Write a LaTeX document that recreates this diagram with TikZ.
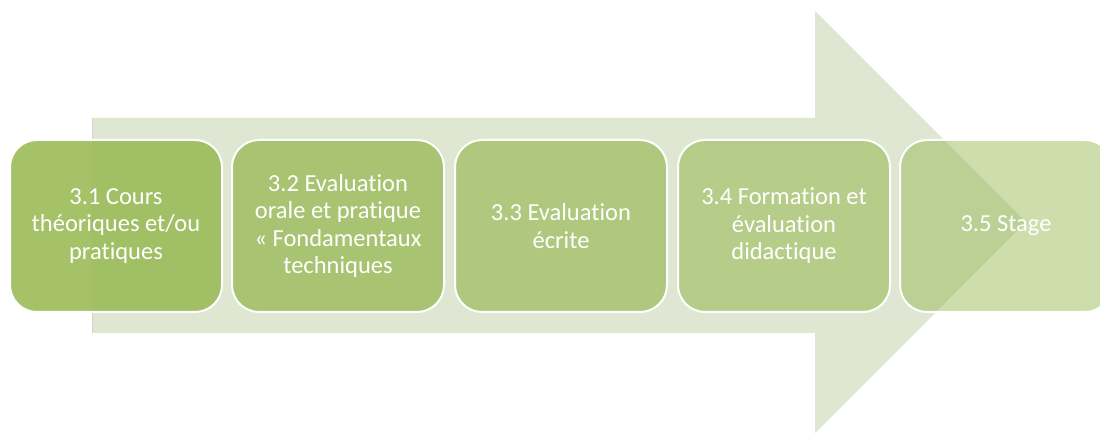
\documentclass[tikz,border=0pt]{standalone}
\usepackage{fontspec}
\setmainfont[Ligatures=NoCommon]{Carlito}
\definecolor{arrowfill}{HTML}{DFE7D2}
\definecolor{accent}{HTML}{9BBB59}
\begin{document}
\begin{tikzpicture}[x=1pt,y=-1pt,
  stepbox/.style={rectangle, rounded corners=27pt, minimum width=212pt, minimum height=172pt,
    draw=white, line width=2pt, text=white, align=center, inner sep=0pt,
    font=\fontsize{24.5}{27.5}\selectfont}]
\useasboundingbox (0,0) rectangle (1100,435);
\clip (0,0) rectangle (1100,435);
% big arrow
\fill[arrowfill] (92,118) -- (815,118) -- (815,11) -- (1026,222) -- (815,433) -- (815,333) -- (92,333) -- cycle;
\draw[black!18, line width=0.6pt] (92,118) -- (92,333);
% boxes
\node[stepbox, fill=accent, fill opacity=0.9, text opacity=1] (b1) at (116,226) {3.1 Cours\\théoriques et/ou\\pratiques};
\node[stepbox, fill=accent, fill opacity=0.8, text opacity=1] (b2) at (338,226) {3.2 Evaluation\\orale et pratique\\« Fondamentaux\\techniques};
\node[stepbox, fill=accent, fill opacity=0.7, text opacity=1] (b3) at (561,226) {3.3 Evaluation\\écrite};
\node[stepbox, fill=accent, fill opacity=0.6, text opacity=1] (b4) at (784,226) {3.4 Formation et\\évaluation\\didactique};
\node[stepbox, fill=accent, fill opacity=0.5, text opacity=1] (b5) at (1006,226) {3.5 Stage};
\end{tikzpicture}
\end{document}
